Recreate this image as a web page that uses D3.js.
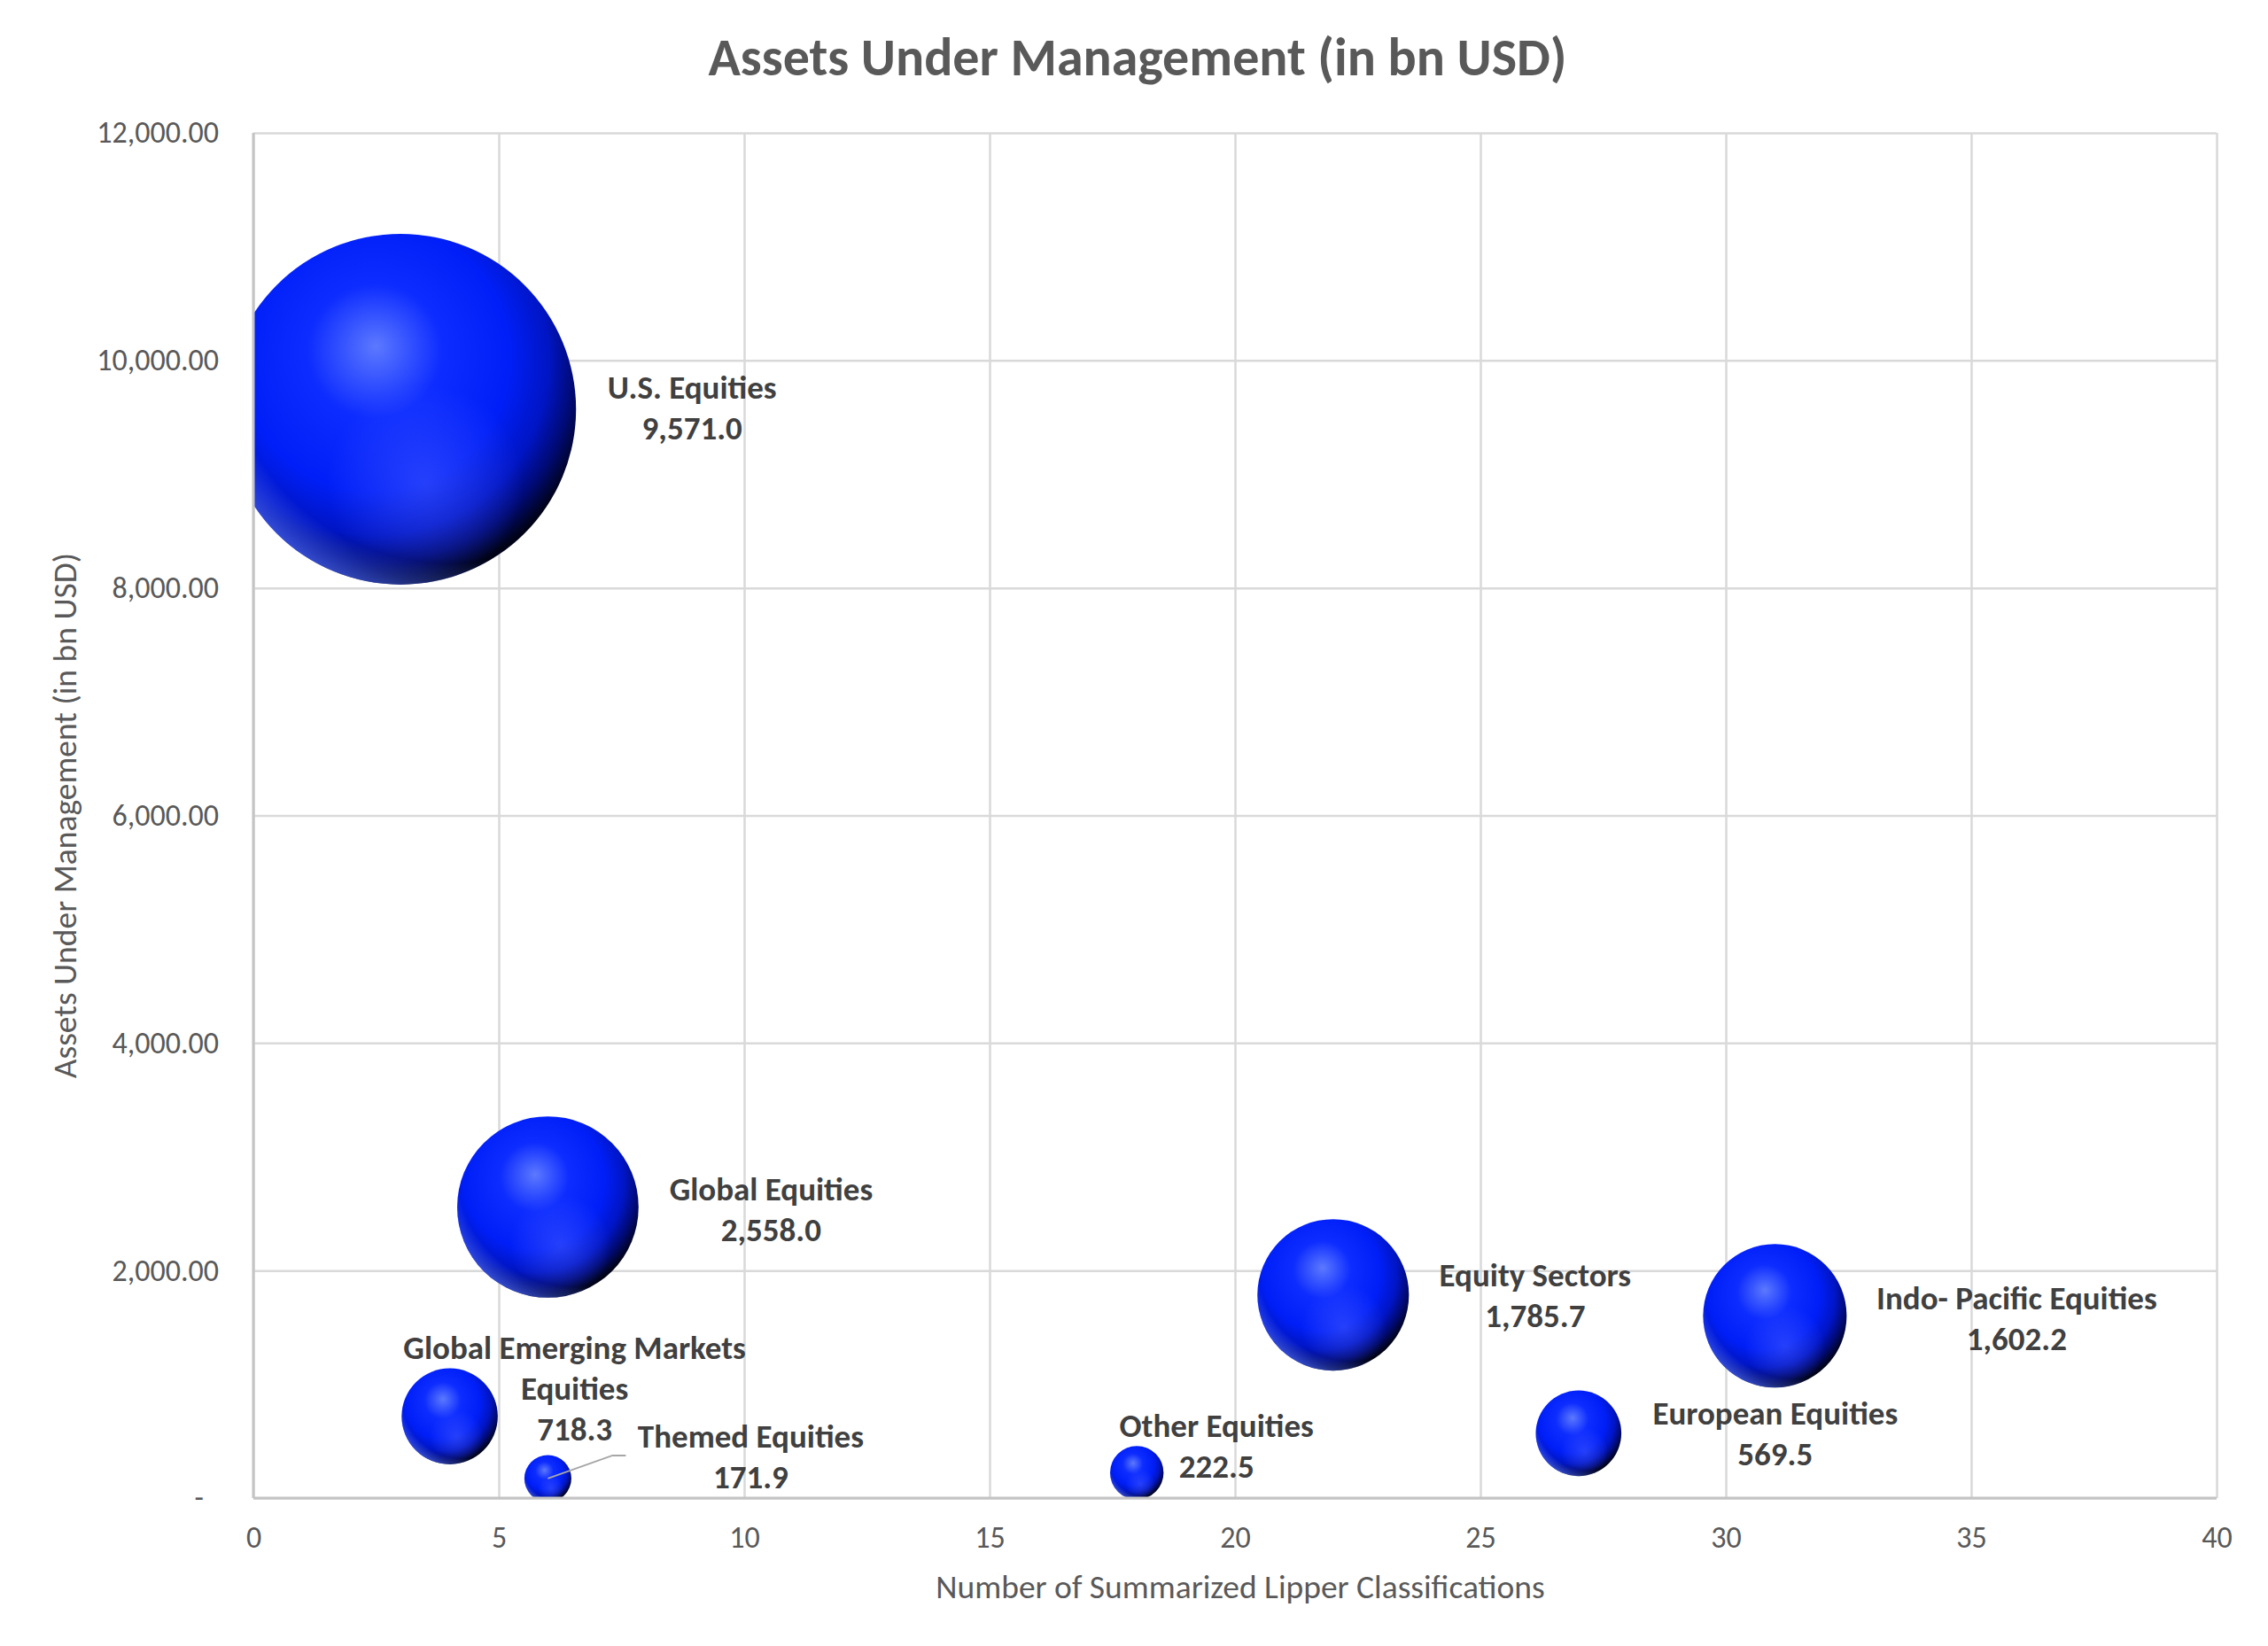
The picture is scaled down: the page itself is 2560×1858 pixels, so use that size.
<html>

<head>
  <script src="https://d3js.org/d3.v7.min.js"></script>
  <style>
    body {
      margin: 0;
      background: white;
    }

    text {
      font-family: Carlito, Calibri, Lato, "Open Sans", sans-serif;
    }

    .gridlines line {
      stroke: #d9d9d9;
      stroke-width: 2.5;
    }

    .gridlines .domain {
      stroke: none;
    }

    .axis .domain {
      stroke: none;
    }

    .axis text {
      fill: #595959;
      font-size: 34px;
    }
  </style>
</head>

<body>
  <svg width="2560" height="1858" id="bubbles"></svg>

  <script>
    // data
    const categories = ["U.S. Equities", "Global Equities", "Global Emerging Markets Equities", "Themed Equities",
      "Other Equities", "Equity Sectors", "European Equities", "Indo- Pacific Equities"];
    const classifications = [3, 6, 4, 6, 18, 22, 27, 31];
    const aum = [9571.0, 2558.0, 718.3, 171.9, 222.5, 1785.7, 569.5, 1602.2];

    const xTicks = [0, 5, 10, 15, 20, 25, 30, 35, 40];
    const yTicks = [0, 2000, 4000, 6000, 8000, 10000, 12000];

    // where each data label sits, relative to its bubble (px)
    const labelOffsets = [[329, -2], [252, 2], [141, -32], [229, -25], [90, -31], [228, 0], [222, 0], [273, 2]];

    const svg = d3.select("#bubbles");

    const plot = { left: 286, right: 2502, top: 150, bottom: 1691 };

    const xScale = d3.scaleLinear().domain([0, 40]).range([plot.left, plot.right]);
    const yScale = d3.scaleLinear().domain([0, 12000]).range([plot.bottom, plot.top]);
    const rScale = d3.scaleSqrt().domain([0, d3.max(aum)]).range([0, 198]);

    const defs = svg.append("defs");

    // sphere shading
    const shade = defs.append("radialGradient").attr("id", "ball")
      .attr("cx", "0.42").attr("cy", "0.37").attr("r", "0.64").attr("fx", "0.43").attr("fy", "0.32");
    shade.append("stop").attr("offset", "0").attr("stop-color", "#5c79ff");
    shade.append("stop").attr("offset", "0.3").attr("stop-color", "#0d2cff");
    shade.append("stop").attr("offset", "0.6").attr("stop-color", "#001ff8");
    shade.append("stop").attr("offset", "0.78").attr("stop-color", "#0015c4");
    shade.append("stop").attr("offset", "0.9").attr("stop-color", "#000a72");
    shade.append("stop").attr("offset", "1").attr("stop-color", "#000318");

    const rim = defs.append("radialGradient").attr("id", "rim")
      .attr("cx", "0.64").attr("cy", "0.30").attr("r", "0.78");
    rim.append("stop").attr("offset", "0").attr("stop-color", "#4d6bff").attr("stop-opacity", 0);
    rim.append("stop").attr("offset", "0.82").attr("stop-color", "#4d6bff").attr("stop-opacity", 0);
    rim.append("stop").attr("offset", "1").attr("stop-color", "#4d6bff").attr("stop-opacity", 0.9);

    const glow = defs.append("radialGradient").attr("id", "glow")
      .attr("cx", "0.57").attr("cy", "0.71").attr("r", "0.28");
    glow.append("stop").attr("offset", "0").attr("stop-color", "#4a60ff").attr("stop-opacity", 0.5);
    glow.append("stop").attr("offset", "1").attr("stop-color", "#4a60ff").attr("stop-opacity", 0);

    defs.append("clipPath").attr("id", "plotclip")
      .append("rect")
      .attr("x", plot.left).attr("y", plot.top)
      .attr("width", plot.right - plot.left).attr("height", plot.bottom - plot.top);

    // Title
    svg.append("text")
      .attr("x", 1284)
      .attr("y", 85)
      .style("text-anchor", "middle")
      .style("font-size", "60px")
      .style("font-weight", "bold")
      .style("fill", "#595959")
      .text("Assets Under Management (in bn USD)");

    // gridlines
    svg.append("g")
      .attr("class", "gridlines")
      .attr("transform", `translate(0,${plot.bottom})`)
      .call(d3.axisBottom(xScale).tickValues(xTicks).tickSize(-(plot.bottom - plot.top)).tickFormat(""));

    svg.append("g")
      .attr("class", "gridlines")
      .attr("transform", `translate(${plot.left},0)`)
      .call(d3.axisLeft(yScale).tickValues(yTicks).tickSize(-(plot.right - plot.left)).tickFormat(""));

    // bubbles
    const bubbles = svg.append("g").attr("clip-path", "url(#plotclip)");
    const idx = d3.range(categories.length);

    ["ball", "rim", "glow"].forEach(layer => {
      bubbles.selectAll("circle." + layer)
        .data(idx)
        .join("circle")
        .attr("class", layer)
        .attr("cx", i => xScale(classifications[i]))
        .attr("cy", i => yScale(aum[i]))
        .attr("r", i => rScale(aum[i]))
        .attr("fill", `url(#${layer})`);
    });

    // axis lines
    svg.append("line")
      .attr("x1", plot.left).attr("y1", plot.top)
      .attr("x2", plot.left).attr("y2", plot.bottom)
      .attr("stroke", "#c4c4c4").attr("stroke-width", 3);
    svg.append("line")
      .attr("x1", plot.left).attr("y1", plot.bottom)
      .attr("x2", plot.right).attr("y2", plot.bottom)
      .attr("stroke", "#c4c4c4").attr("stroke-width", 3);

    // tick labels
    const fmt = d3.format(",.2f");
    const leftAxis = svg.append("g")
      .attr("class", "axis")
      .attr("transform", `translate(${plot.left},0)`)
      .call(d3.axisLeft(yScale).tickValues(yTicks).tickSize(0).tickPadding(39)
        .tickFormat(d => d === 0 ? "-" : fmt(d)));
    leftAxis.selectAll(".tick text").filter(d => d === 0).attr("dx", -17);

    svg.append("g")
      .attr("class", "axis")
      .attr("transform", `translate(0,${plot.bottom})`)
      .call(d3.axisBottom(xScale).tickValues(xTicks).tickSize(0).tickPadding(32));

    // axis titles
    svg.append("text")
      .attr("x", (plot.left + plot.right) / 2 + 6)
      .attr("y", 1804)
      .style("text-anchor", "middle")
      .style("font-size", "37.5px")
      .style("fill", "#595959")
      .text("Number of Summarized Lipper Classifications");

    svg.append("text")
      .attr("x", -(plot.top + plot.bottom) / 2)
      .attr("y", 86)
      .attr("transform", "rotate(-90)")
      .style("text-anchor", "middle")
      .style("font-size", "37.5px")
      .style("fill", "#595959")
      .text("Assets Under Management (in bn USD)");

    // leader line for Themed Equities
    const ti = categories.indexOf("Themed Equities");
    const tx = xScale(classifications[ti]), ty = yScale(aum[ti]);
    svg.append("polyline")
      .attr("points", `${tx},${ty} ${tx + 73},${ty - 26} ${tx + 88},${ty - 26}`)
      .attr("fill", "none")
      .attr("stroke", "#a6a6a6")
      .attr("stroke-width", 2);

    // data labels
    const valueFmt = d3.format(",.1f");
    idx.forEach(i => {
      const name = categories[i] === "Global Emerging Markets Equities"
        ? ["Global Emerging Markets", "Equities"] : [categories[i]];
      const lines = name.concat([valueFmt(aum[i])]);
      const cx = xScale(classifications[i]) + labelOffsets[i][0];
      const cy = yScale(aum[i]) + labelOffsets[i][1];
      lines.forEach((t, k) => {
        svg.append("text")
          .attr("x", cx)
          .attr("y", cy + (k - (lines.length - 1) / 2) * 46)
          .attr("dy", "0.36em")
          .style("text-anchor", "middle")
          .style("font-size", "37px")
          .style("font-weight", "bold")
          .style("fill", "#404040")
          .text(t);
      });
    });
  </script>
</body>

</html>
